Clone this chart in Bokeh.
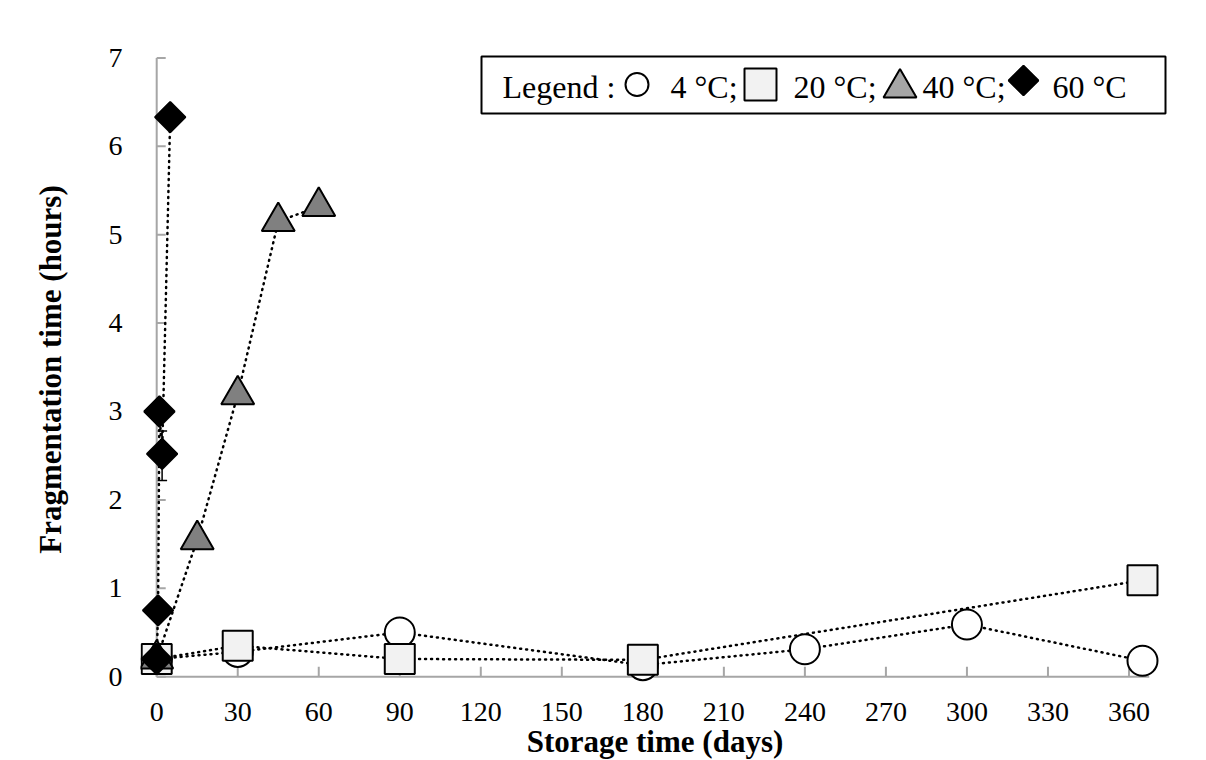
import numpy as np
from bokeh.plotting import figure
from bokeh.models import Range1d, FixedTicker, BoxAnnotation, Label, Whisker, ColumnDataSource, TeeHead
from bokeh.embed import file_html
from bokeh.resources import INLINE

# ---- data ----
days_4 = [0, 30, 90, 180, 240, 300, 365]
hours_4 = [0.20, 0.28, 0.50, 0.13, 0.31, 0.59, 0.18]
days_20 = [0, 30, 90, 180, 365]
hours_20 = [0.20, 0.35, 0.20, 0.19, 1.09]
days_40 = [0, 15, 30, 45, 60]
hours_40 = [0.20, 1.55, 3.19, 5.15, 5.32]
days_60 = [0, 0.5, 1, 2, 5]
hours_60 = [0.20, 0.75, 3.00, 2.52, 6.33]
err_days_60 = [2]
err_low_60 = [2.22]
err_high_60 = [2.78]
x_ticks = list(range(0, 361, 30))
y_ticks = list(range(0, 8))
legend_labels = ["4 °C;", "20 °C;", "40 °C;", "60 °C"]

FONT = "Liberation Serif"
AXIS_GRAY = "#a6a6a6"

# layout
X0, X1 = -6, 375
Y0, Y1 = -0.1, 7.05
FL, FT = 140, 53
FW, FH = 1029, 632
W, H = 1206, 760
X_AXIS_END = 367.5

p = figure(width=W, height=H, output_backend="svg", toolbar_location=None,
           x_range=Range1d(X0, X1), y_range=Range1d(Y0, Y1),
           frame_width=FW, frame_height=FH,
           min_border_left=FL, min_border_top=FT,
           min_border_right=W - FL - FW, min_border_bottom=H - FT - FH)
p.outline_line_color = None
p.xgrid.visible = False
p.ygrid.visible = False
p.background_fill_color = "white"
p.border_fill_color = "white"

def to_day(px):
    return X0 + (px - FL) * (X1 - X0) / FW

def to_hour(py):
    return Y1 - (py - FT) * (Y1 - Y0) / FH

DAY_PER_PX = (X1 - X0) / FW
HOUR_PER_PX = (Y1 - Y0) / FH

for ax in (p.xaxis[0], p.yaxis[0]):
    ax.axis_line_color = None
    ax.major_tick_line_color = None
    ax.minor_tick_line_color = None
    ax.major_label_text_font = FONT
    ax.major_label_text_font_size = "28px"
    ax.major_label_text_color = "black"
    ax.axis_label_text_font = FONT
    ax.axis_label_text_font_size = "31px"
    ax.axis_label_text_font_style = "bold"
    ax.axis_label_text_color = "black"

p.xaxis.ticker = FixedTicker(ticks=x_ticks)
p.yaxis.ticker = FixedTicker(ticks=y_ticks)
p.xaxis.axis_label = "Storage time (days)"
p.yaxis.axis_label = "Fragmentation time (hours)"
p.xaxis.major_label_standoff = 11
p.yaxis.major_label_standoff = 12
p.xaxis.axis_label_standoff = 0
p.yaxis.axis_label_standoff = 38

# outer light frame
p.add_layout(BoxAnnotation(left=7, right=1220, top=10, bottom=800,
                           left_units="canvas", right_units="canvas",
                           top_units="canvas", bottom_units="canvas",
                           fill_alpha=0, line_color="#d9d9d9", line_alpha=1, line_width=2,
                           level="underlay"))

# axis lines and inward ticks (drawn at the data origin)
p.segment(x0=[0, 0], y0=[0, 0], x1=[0, X_AXIS_END], y1=[7, 0],
          line_color=AXIS_GRAY, line_width=2)
p.segment(x0=[0] * len(y_ticks), y0=y_ticks, x1=[9 * DAY_PER_PX] * len(y_ticks), y1=y_ticks,
          line_color=AXIS_GRAY, line_width=2)
p.segment(x0=x_ticks, y0=[0] * len(x_ticks), x1=x_ticks, y1=[10 * HOUR_PER_PX] * len(x_ticks),
          line_color=AXIS_GRAY, line_width=2)

# dotted lines
line_kw = dict(line_color="black", line_width=2.5, line_dash="1 5", line_cap="round")
p.line(days_4, hours_4, **line_kw)
p.line(days_20, hours_20, **line_kw)
p.line(days_40, hours_40, **line_kw)
p.line(days_60, hours_60, **line_kw)

# error bar
src_err = ColumnDataSource(dict(x=err_days_60, lo=err_low_60, hi=err_high_60))
p.add_layout(Whisker(source=src_err, base="x", lower="lo", upper="hi", dimension="height",
                     line_color="black", line_width=1.5,
                     upper_head=TeeHead(size=10, line_color="black", line_width=1.5),
                     lower_head=TeeHead(size=10, line_color="black", line_width=1.5),
                     level="underlay"))

# markers
mk = dict(line_color="black", line_width=2)
p.scatter(days_4, hours_4, marker="circle", size=30, fill_color="white", **mk)
p.scatter(days_20, hours_20, marker="square", size=30, fill_color="#f2f2f2", **mk)
p.scatter(days_40, hours_40, marker="triangle", size=33, fill_color="#808080", **mk)
p.scatter(days_60, hours_60, marker="square", size=21.5, angle=np.pi / 4,
          fill_color="black", **mk)

# legend (custom, positioned in canvas pixels)
p.add_layout(BoxAnnotation(left=481, right=1165, top=56, bottom=113,
                           left_units="canvas", right_units="canvas",
                           top_units="canvas", bottom_units="canvas",
                           fill_color="white", fill_alpha=1,
                           line_color="black", line_alpha=1, line_width=2,
                           level="underlay"))
LY = 86
p.add_layout(Label(x=502, y=LY, x_units="canvas", y_units="canvas", text="Legend :",
                   text_font=FONT, text_font_size="32px", text_baseline="middle",
                   text_color="black"))
leg_text_x = [670, 793, 922, 1052]
for tx, lab in zip(leg_text_x, legend_labels):
    p.add_layout(Label(x=tx, y=LY, x_units="canvas", y_units="canvas", text=lab,
                       text_font=FONT, text_font_size="32px", text_baseline="middle",
                       text_color="black"))
p.scatter([to_day(636.5)], [to_hour(84)], marker="circle", size=23, fill_color="white", **mk)
p.scatter([to_day(760)], [to_hour(84)], marker="square", size=32, fill_color="#f2f2f2", **mk)
p.scatter([to_day(899.5)], [to_hour(87.5)], marker="triangle", size=33,
          fill_color="#a6a6a6", **mk)
p.scatter([to_day(1023)], [to_hour(80)], marker="square", size=21, angle=np.pi / 4,
          fill_color="black", **mk)

open("out.html", "w").write(file_html(p, INLINE))
